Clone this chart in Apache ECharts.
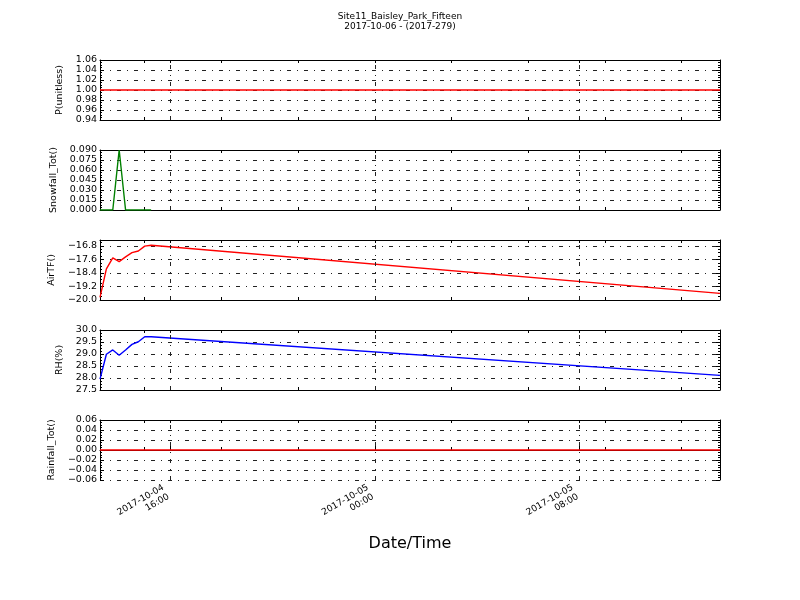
<!DOCTYPE html>
<html>
<head>
<meta charset="utf-8">
<script src="https://cdn.jsdelivr.net/npm/echarts@6/dist/echarts.min.js"></script>
<style>
html, body { margin: 0; padding: 0; background: #fff; }
#chart { width: 800px; height: 600px; }
</style>
</head>
<body>
<div id="chart"></div>
<script>
// sample times (UTC, no timezone shift)
const times = [
  "2017-10-04 13:15", "2017-10-04 13:30", "2017-10-04 13:45", "2017-10-04 14:00",
  "2017-10-04 14:15", "2017-10-04 14:30", "2017-10-04 14:45", "2017-10-04 15:00",
  "2017-10-04 15:15", "2017-10-05 13:30"
];
const pValues = [1, 1, 1, 1, 1, 1, 1, 1, 1, 1];
const snowValues = [0, 0, 0, 0.09, 0, 0, 0, 0, 0, null];
const airTemp = [-19.85, -18.16, -17.51, -17.73, -17.45, -17.2, -17.1, -16.81, -16.76, -19.61];
const rhValues = [27.95, 28.99, 29.17, 28.95, 29.17, 29.4, 29.51, 29.72, 29.72, 28.11];
const rainValues = [0, 0, 0, 0, 0, 0, 0, 0, 0, 0];

const xStart = "2017-10-04 13:15";
const xEnd = "2017-10-05 13:30";
const majorTimes = ["2017-10-04 16:00", "2017-10-05 00:00", "2017-10-05 08:00"];
const minorTimes = [
  "2017-10-04 15:00", "2017-10-04 18:00", "2017-10-04 21:00", "2017-10-05 03:00",
  "2017-10-05 06:00", "2017-10-05 09:00", "2017-10-05 12:00"
];

const titleLines = ["Site11_Baisley_Park_Fifteen", "2017-10-06 - (2017-279)"];

function toMs(s) {
  const [d, t] = s.split(" ");
  const [Y, M, D] = d.split("-").map(Number);
  const [h, m] = t.split(":").map(Number);
  return Date.UTC(Y, M - 1, D, h, m);
}
function pad(n) { return n < 10 ? "0" + n : "" + n; }
function fmtTime(v) {
  const d = new Date(v);
  return d.getUTCFullYear() + "-" + pad(d.getUTCMonth() + 1) + "-" + pad(d.getUTCDate()) +
    "\n" + pad(d.getUTCHours()) + ":" + pad(d.getUTCMinutes());
}
function fmtNum(digits) {
  return function (v) {
    if (Math.abs(v) < 1e-9) v = 0;
    return (v < 0 ? "\u2212" : "") + Math.abs(v).toFixed(digits);
  };
}

// name gap differs per panel, like matplotlib placing the ylabel beside the tick labels
const panels = [
  { name: "P(unitless)", values: pValues, color: "#ff0000", min: 0.94, max: 1.06, interval: 0.02, digits: 2, gap: 31 },
  { name: "Snowfall_Tot()", values: snowValues, color: "#008000", min: 0, max: 0.09, interval: 0.015, digits: 3, gap: 34 },
  { name: "AirTF()", values: airTemp, color: "#ff0000", min: -20, max: -16.45, interval: 0.8, digits: 1, gap: 37 },
  { name: "RH(%)", values: rhValues, color: "#0000ff", min: 27.5, max: 30, interval: 0.5, digits: 1, gap: 30 },
  { name: "Rainfall_Tot()", values: rainValues, color: "#ff0000", min: -0.06, max: 0.06, interval: 0.02, digits: 2, gap: 37 }
];
const panelTops = [60, 150, 240, 330, 420];

const xMin = toMs(xStart), xMax = toMs(xEnd);
const majorMs = majorTimes.map(toMs);
const minorMs = minorTimes.map(toMs);
const allTicks = majorMs.concat(minorMs).sort((a, b) => a - b);

const gridDash = [4, 6, 1, 6];
const black = "#000";

const grids = [], xAxes = [], yAxes = [], series = [];

panels.forEach((p, i) => {
  const last = i === panels.length - 1;
  grids.push({ left: 100, width: 620, top: panelTops[i], height: 60 });

  // bottom axis: major ticks and labels
  xAxes.push({
    type: "value", gridIndex: i, min: xMin, max: xMax, position: "bottom",
    axisLine: { show: true, lineStyle: { color: black, width: 1 } },
    axisTick: { show: true, inside: true, length: 4, customValues: majorMs, lineStyle: { color: black } },
    axisLabel: {
      show: last, customValues: majorMs, formatter: fmtTime, rotate: 30,
      fontSize: 9, color: black, margin: 9, lineHeight: 10.5, padding: [0, 5, 0, 0]
    },
    splitLine: { show: false },
    name: last ? "Date/Time" : "",
    nameLocation: "middle", nameGap: 56,
    nameTextStyle: { fontSize: 16, color: black }
  });
  // bottom axis: minor ticks
  xAxes.push({
    type: "value", gridIndex: i, min: xMin, max: xMax, position: "bottom",
    axisLine: { show: false },
    axisTick: { show: true, inside: true, length: 3, customValues: minorMs, lineStyle: { color: black } },
    axisLabel: { show: false },
    splitLine: { show: false }
  });
  // top axis
  xAxes.push({
    type: "value", gridIndex: i, min: xMin, max: xMax, position: "top",
    axisLine: { show: true, lineStyle: { color: black, width: 1 } },
    axisTick: { show: true, inside: true, length: 3, customValues: allTicks, lineStyle: { color: black } },
    axisLabel: { show: false },
    splitLine: { show: false }
  });

  const yBase = {
    type: "value", gridIndex: i, min: p.min, max: p.max, interval: p.interval,
    axisLine: { show: true, lineStyle: { color: black, width: 1 } },
    axisTick: { show: true, inside: true, length: 4, lineStyle: { color: black } },
    minorTick: { show: true, splitNumber: 4, length: 2, lineStyle: { color: black } }
  };
  yAxes.push(Object.assign({}, yBase, {
    position: "left",
    name: p.name, nameLocation: "middle", nameGap: p.gap, nameRotate: 90,
    nameTextStyle: { fontSize: 9.5, color: black },
    axisLabel: { fontSize: 9.5, color: black, margin: 3, formatter: fmtNum(p.digits), showMaxLabel: i === 2 ? false : true },
    splitLine: { show: true, lineStyle: { color: "#222", width: 1, type: gridDash } }
  }));
  yAxes.push(Object.assign({}, yBase, {
    position: "right",
    axisLabel: { show: false },
    splitLine: { show: false }
  }));

  series.push({
    name: p.name, type: "line",
    xAxisIndex: i * 3, yAxisIndex: i * 2,
    data: times.map((t, k) => [toMs(t), p.values[k]]),
    showSymbol: false, symbol: "none",
    lineStyle: { color: p.color, width: 1.4 },
    itemStyle: { color: p.color },
    connectNulls: false,
    z: 3,
    // vertical grid lines at the major date ticks
    markLine: {
      silent: true, symbol: "none", label: { show: false }, animation: false,
      lineStyle: { color: "#222", width: 1, type: gridDash },
      data: majorMs.map(v => ({ xAxis: v }))
    }
  });
});

const chart = echarts.init(document.getElementById("chart"));
chart.setOption({
  animation: false,
  backgroundColor: "#fff",
  textStyle: { fontFamily: "DejaVu Sans" },
  title: {
    text: titleLines.join("\n"),
    left: "center", top: 6,
    textStyle: { fontSize: 9, fontWeight: "normal", color: black, lineHeight: 10.5, align: "center" }
  },
  grid: grids,
  xAxis: xAxes,
  yAxis: yAxes,
  series: series
});
</script>
</body>
</html>
